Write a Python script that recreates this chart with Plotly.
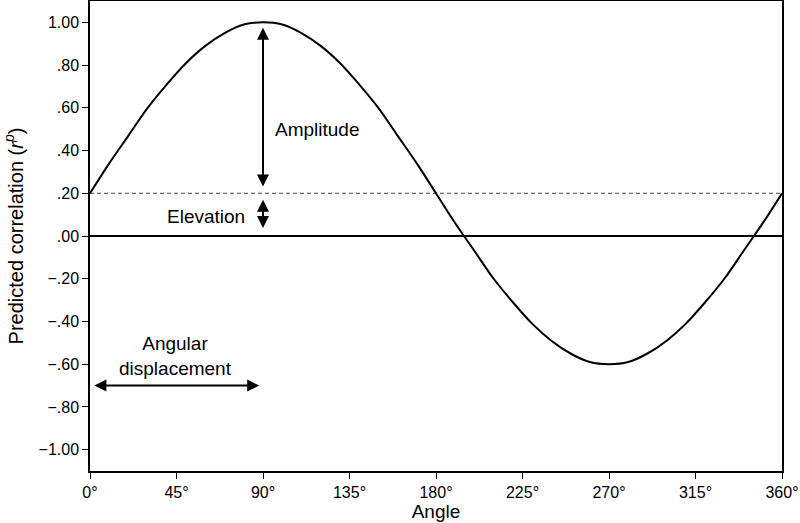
import plotly.graph_objects as go

# Data
angles = [0, 10, 20, 30, 40, 50, 60, 70, 80, 90, 100, 110, 120, 130, 140, 150, 160,
          170, 180, 190, 200, 210, 220, 230, 240, 250, 260, 270, 280, 290, 300, 310,
          320, 330, 340, 350, 360]
pred_r = [0.20, 0.34, 0.47, 0.60, 0.71, 0.81, 0.89, 0.95, 0.99, 1.00, 0.99, 0.95,
          0.89, 0.81, 0.71, 0.60, 0.47, 0.34, 0.20, 0.06, -0.07, -0.20, -0.31, -0.41,
          -0.49, -0.55, -0.59, -0.60, -0.59, -0.55, -0.49, -0.41, -0.31, -0.20, -0.07,
          0.06, 0.20]
elevation = 0.20
x_ticks = [0, 45, 90, 135, 180, 225, 270, 315, 360]
x_tick_labels = ["0°", "45°", "90°", "135°", "180°", "225°", "270°", "315°", "360°"]
y_ticks = [1.0, 0.8, 0.6, 0.4, 0.2, 0.0, -0.2, -0.4, -0.6, -0.8, -1.0]
y_tick_labels = ["1.00", ".80", ".60", ".40", ".20", ".00", "\u2212.20", "\u2212.40",
                 "\u2212.60", "\u2212.80", "\u22121.00"]

font = "Liberation Sans, Arial, Helvetica, sans-serif"

fig = go.Figure()
fig.add_trace(go.Scatter(x=[0, 360], y=[elevation, elevation], mode="lines",
                         line=dict(color="#444", width=1, dash="4px,3px"),
                         hoverinfo="skip", showlegend=False))
fig.add_trace(go.Scatter(x=[0, 360], y=[0, 0], mode="lines",
                         line=dict(color="black", width=2),
                         hoverinfo="skip", showlegend=False))
fig.add_trace(go.Scatter(x=angles, y=pred_r, mode="lines", line_shape="spline",
                         line=dict(color="black", width=2), showlegend=False))

arrow = dict(showarrow=True, arrowhead=2, startarrowhead=2, arrowside="end+start",
             arrowsize=1.2, startarrowsize=1.2, arrowwidth=2, arrowcolor="black",
             axref="x", ayref="y", text="")
fig.add_annotation(x=90, y=0.975, ax=90, ay=0.225, **arrow)
fig.add_annotation(x=90, y=0.17, ax=90, ay=0.03, **arrow)
fig.add_annotation(x=88, y=-0.70, ax=1.5, ay=-0.70, **arrow)

tf = dict(family=font, size=19, color="black")
fig.add_annotation(x=95, y=0.50, text="Amplitude", showarrow=False,
                   xanchor="left", font=tf)
fig.add_annotation(x=81.5, y=0.09, text="Elevation", showarrow=False,
                   xanchor="right", font=tf)
fig.add_annotation(x=44.5, y=-0.56, text="Angular<br>displacement", showarrow=False,
                   font=tf, align="center")

fig.update_xaxes(range=[0, 360], tickvals=x_ticks, ticktext=x_tick_labels,
                 showline=True, linecolor="black", linewidth=1.5, mirror=True,
                 ticks="outside", ticklen=6, tickcolor="black", showgrid=False,
                 zeroline=False, automargin=False,
                 tickfont=dict(family=font, size=16, color="black"),
                 title=dict(text="Angle", font=dict(family=font, size=19, color="black"),
                            standoff=2))
fig.update_yaxes(range=[-1.1, 1.1], tickvals=y_ticks, ticktext=y_tick_labels,
                 showline=True, linecolor="black", linewidth=1.5, mirror=True,
                 ticks="outside", ticklen=6, tickcolor="black", showgrid=False,
                 zeroline=False, automargin=False,
                 tickfont=dict(family=font, size=16, color="black"),
                 title=dict(text="Predicted correlation (<i>r</i><sup><i>p</i></sup>)",
                            font=dict(family=font, size=20, color="black"), standoff=10))

fig.update_layout(width=800, height=523, plot_bgcolor="white", paper_bgcolor="white",
                  margin=dict(l=90, r=18, t=1, b=52))
fig.write_html("out.html", config={"displayModeBar": False},
               post_script="document.body.style.margin='0';")
